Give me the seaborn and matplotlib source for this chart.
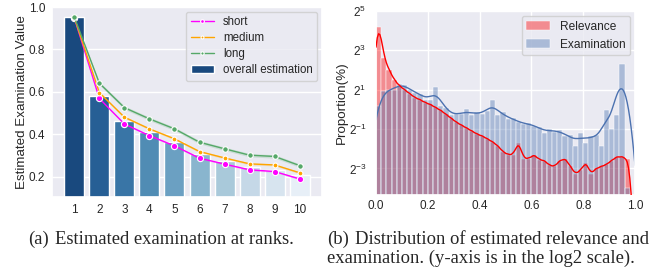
import numpy as np
import pandas as pd
import matplotlib
matplotlib.use("Agg")
import matplotlib.pyplot as plt
from matplotlib.patches import Patch
from matplotlib.ticker import FixedLocator, LogFormatterSciNotation
import seaborn as sns

# (a) examination estimate at ranks
ranks = [1, 2, 3, 4, 5, 6, 7, 8, 9, 10]
overall = [0.951, 0.583, 0.465, 0.410, 0.363, 0.307, 0.274, 0.248, 0.230, 0.208]
short = [0.950, 0.569, 0.449, 0.394, 0.346, 0.288, 0.260, 0.233, 0.225, 0.190]
medium = [0.950, 0.597, 0.481, 0.426, 0.379, 0.319, 0.289, 0.261, 0.256, 0.219]
long_ = [0.953, 0.641, 0.526, 0.473, 0.426, 0.363, 0.332, 0.302, 0.296, 0.253]
short_err = [0.0, 0.004, 0.004, 0.004, 0.004, 0.004, 0.004, 0.004, 0.004, 0.004]
medium_err = [0.0, 0.005, 0.005, 0.005, 0.005, 0.005, 0.005, 0.005, 0.005, 0.005]
long_err = [0.0, 0.008, 0.008, 0.008, 0.008, 0.008, 0.008, 0.008, 0.008, 0.008]

# (b) distribution, 50 bins of width 0.02 on [0, 1], proportion in %
bin_width = 0.02
relevance = [18.4, 6.06, 4.0, 2.83, 2.30, 2.0, 1.74, 1.52, 1.41, 1.27,
             1.19, 1.07, 0.966, 0.841, 0.732, 0.637, 0.574, 0.518, 0.467, 0.420,
             0.392, 0.354, 0.319, 0.277, 0.225, 0.203, 0.203, 0.308, 0.177, 0.177,
             0.203, 0.171, 0.165, 0.139, 0.134, 0.165, 0.177, 0.134, 0.102, 0.117,
             0.154, 0.102, 0.125, 0.134, 0.144, 0.165, 0.189, 0.189, 0.177, 0.0]
examination = [1.11, 1.93, 2.0, 2.0, 2.46, 2.38, 2.0, 1.80, 1.74, 1.41,
               1.37, 2.22, 1.11, 1.035, 0.812, 0.841, 0.841, 1.0, 0.812, 0.901,
               0.841, 0.933, 1.37, 0.812, 0.901, 0.707, 0.732, 0.637, 0.595, 0.616,
               0.555, 0.536, 0.435, 0.5, 0.451, 0.483, 0.392, 0.406, 0.277, 0.435,
               0.308, 0.392, 0.406, 0.277, 0.966, 0.5, 0.812, 4.92, 0.0625, 0.0]

sns.set_theme(style="darkgrid")
plt.rcParams['font.family'] = ['Liberation Sans', 'DejaVu Sans']

fig = plt.figure(figsize=(6.62, 2.73), dpi=100)
W, H = 662, 273
ax1 = fig.add_axes([52 / W, 1 - 197 / H, 270 / W, 190 / H])
ax2 = fig.add_axes([376 / W, 1 - 195 / H, 259 / W, 184 / H])

# ---- left panel
df_bar = pd.DataFrame({'rank': [str(r) for r in ranks], 'value': overall})
bar_colors = sns.color_palette('Blues_r', len(ranks))
sns.barplot(data=df_bar, x='rank', y='value', hue='rank', palette=bar_colors,
            legend=False, ax=ax1)

pos = np.arange(len(ranks))
series = [
    ('short', short, short_err, 'magenta', 4.5),
    ('medium', medium, medium_err, 'orange', 3.5),
    ('long', long_, long_err, '#55a868', 4.0),
]
for name, vals, err, c, ms in series:
    vals = np.array(vals)
    err = np.array(err)
    ax1.fill_between(pos, vals - err, vals + err, color=c, alpha=0.2, lw=0)
    sns.lineplot(x=pos, y=vals, color=c, marker='o', markersize=ms,
                 markeredgecolor='white', markeredgewidth=0.8, lw=1.0,
                 label=name, ax=ax1)

ax1.set_ylim(0.105, 1.0)
ax1.set_yticks([0.2, 0.4, 0.6, 0.8, 1.0])
ax1.set_xlabel('')
ax1.set_ylabel('Estimated Examination Value', fontsize=9.6)
ax1.yaxis.set_label_coords(-0.09, 0.5)
ax1.tick_params(labelsize=8.5, length=0)
ax1.tick_params(axis='y', pad=5)
ax1.tick_params(axis='x', pad=5)
handles, labels = ax1.get_legend_handles_labels()
handles.append(Patch(facecolor=sns.desaturate(bar_colors[0], 0.75)))
labels.append('overall estimation')
ax1.legend(handles, labels, loc='upper right', fontsize=8.3, markerscale=0.6,
           borderaxespad=0.4, labelspacing=0.35, handlelength=2.0)

# ---- right panel
n_bins = len(relevance)
centers = (np.arange(n_bins) + 0.5) * bin_width
df_hist = pd.DataFrame({'x': centers, 'relevance': relevance,
                        'examination': examination})
sns.histplot(data=df_hist, x='x', weights='relevance', binwidth=bin_width,
             binrange=(0, 1), color='red', alpha=0.4, kde=True,
             kde_kws=dict(bw_method=0.05, cut=3, clip=(0, 1)),
             line_kws=dict(lw=1.0), label='Relevance', ax=ax2)
sns.histplot(data=df_hist, x='x', weights='examination', binwidth=bin_width,
             binrange=(0, 1), color='#4c72b0', alpha=0.4, kde=True,
             kde_kws=dict(bw_method=0.07, cut=3, clip=(0, 1)),
             line_kws=dict(lw=1.0), label='Examination', ax=ax2)
# keep the relevance density curve on top of the examination bars
ax2.lines[0].set_zorder(3)
ax2.set_yscale('log', base=2)
ax2.set_ylim(2 ** -4.35, 2 ** 5)
ax2.set_xlim(0, 1)
ax2.yaxis.set_major_locator(FixedLocator([2 ** -3, 2 ** -1, 2, 8, 32]))
ax2.yaxis.set_major_formatter(LogFormatterSciNotation(base=2))
ax2.set_xticks([0.0, 0.2, 0.4, 0.6, 0.8, 1.0])
ax2.set_xlabel('')
ax2.set_ylabel('Proportion(%)', fontsize=9.6)
ax2.yaxis.set_label_coords(-0.108, 0.5)
ax2.tick_params(labelsize=8.5, length=0)
ax2.tick_params(axis='x', pad=3.5)
ax2.tick_params(axis='y', which='both', pad=7, length=0)
ax2.legend(loc='upper right', fontsize=8.6, borderaxespad=0.4)

# ---- captions
serif = ['Liberation Serif', 'DejaVu Serif']
cap = dict(fontsize=13.4, family=serif, va='baseline', ha='left')
fig.text(28 / W, 1 - 243.5 / H, '(a)', **cap)
fig.text(55 / W, 1 - 243.5 / H, 'Estimated examination at ranks.', **cap)
fig.text(327 / W, 1 - 243.5 / H, '(b)', **cap)
fig.text(355 / W, 1 - 243.5 / H, 'Distribution of estimated relevance and', **cap)
fig.text(327 / W, 1 - 262.5 / H, 'examination. (y-axis is in the log2 scale).', **cap)

fig.savefig('out.png', dpi=100)
